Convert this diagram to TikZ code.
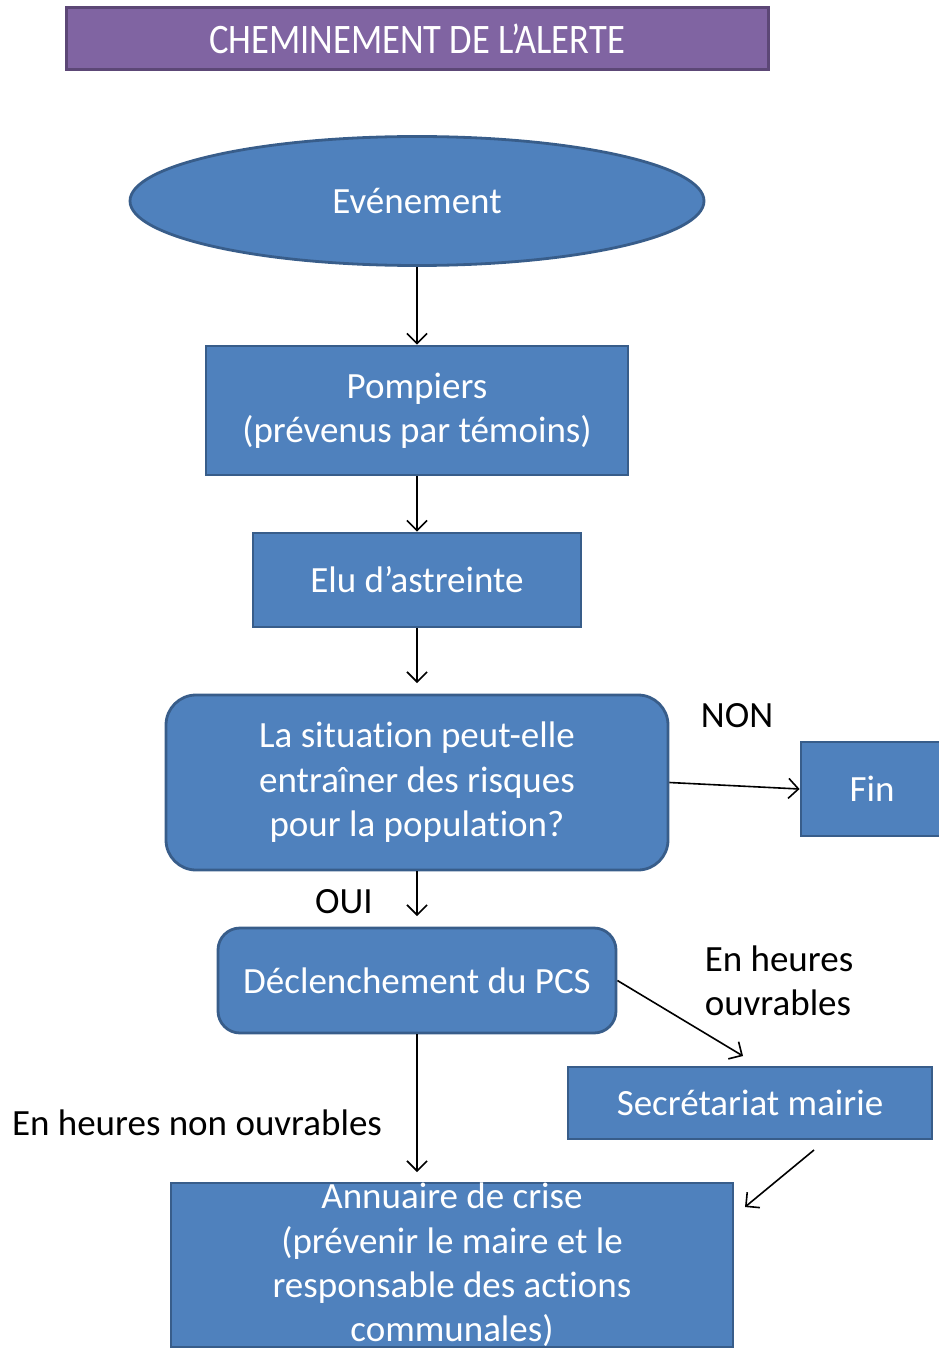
\documentclass[tikz,border=0pt]{standalone}
\usepackage{fontspec}
\setmainfont[Ligatures=NoCommon]{Carlito}
\usetikzlibrary{arrows.meta,shapes.geometric}
\definecolor{boxblue}{HTML}{4F81BD}
\definecolor{boxedge}{HTML}{385D8A}
\definecolor{titlefill}{HTML}{8064A2}
\definecolor{titleedge}{HTML}{5C4776}
\tikzset{
  flowbox/.style={draw=boxedge, fill=boxblue, line width=1.4pt, text=white,
                  align=center, inner sep=0pt, font=\fontsize{18.5}{22.2}\selectfont},
  flowround/.style={flowbox, rounded corners=#1},
  flowround/.default=14pt,
  lbl/.style={font=\fontsize{18.5}{22.2}\selectfont, inner sep=0pt, align=left},
  flow/.style={->, line width=0.8pt},
}

\begin{document}
\begin{tikzpicture}[x=0.5pt, y=-0.5pt, >={Straight Barb[length=5pt,width=10pt]}]
  \useasboundingbox (0,0) rectangle (938,1348);
  % title
  \node[draw=titleedge, fill=titlefill, line width=1.5pt, text=white, inner sep=0pt,
        minimum width=351pt, minimum height=31pt, font=\fontsize{21}{25}\selectfont]
        (titre) at (417,39) {\scalebox{0.87}[1]{CHEMINEMENT DE L’ALERTE}};
  % main chain
  \node[flowbox, ellipse, minimum width=287pt, minimum height=64.5pt] (evt) at (417,201) {Evénement};
  \node[flowbox, minimum width=211pt, minimum height=64.5pt] (pomp) at (417,410.5)
        {Pompiers\\(prévenus par témoins)};
  \node[flowbox, minimum width=164pt, minimum height=47pt] (elu) at (417,580) {Elu d’astreinte};
  \node[flowround=15pt, minimum width=251pt, minimum height=87.5pt] (quest) at (417,782.5)
        {La situation peut-elle\\entraîner des risques\\pour la population?};
  \node[flowbox, minimum width=71pt, minimum height=47pt] (fin) at (872,789) {Fin};
  \node[flowround=11pt, minimum width=199pt, minimum height=52.5pt] (pcs) at (417,980.5)
        {Déclenchement du PCS};
  \node[flowbox, minimum width=182pt, minimum height=36pt] (secr) at (750,1103) {Secrétariat mairie};
  \node[flowbox, minimum width=281pt, minimum height=81pt] (annu) at (452,1265)
        {Annuaire de crise\\(prévenir le maire et le\\responsable des actions\\communales)};
  % labels
  \node[lbl] (non) at (737,716) {NON};
  \node[lbl] (oui) at (344,902) {OUI};
  \node[lbl] (ouvr) at (779,981) {En heures\\ouvrables};
  \node[lbl] (nonouvr) at (197,1123) {En heures non ouvrables};
  % free ends
  \coordinate (questin) at (417,683);
  \coordinate (pcsin) at (417,916);
  \coordinate (secrin) at (743,1056);
  \coordinate (annuin) at (417,1172);
  \coordinate (secrout) at (814,1150);
  \coordinate (annuin2) at (745,1207);
  % arrows
  \draw[flow] (evt.south) -- (pomp.north);
  \draw[flow] (pomp.south) -- (elu.north);
  \draw[flow] (elu.south) -- (questin);
  \draw[flow] (quest.east) -- (fin.west);
  \draw[flow] (quest.south) -- (pcsin);
  \draw[flow] (pcs.east) -- (secrin);
  \draw[flow] (pcs.south) -- (annuin);
  \draw[flow] (secrout) -- (annuin2);
\end{tikzpicture}
\end{document}
